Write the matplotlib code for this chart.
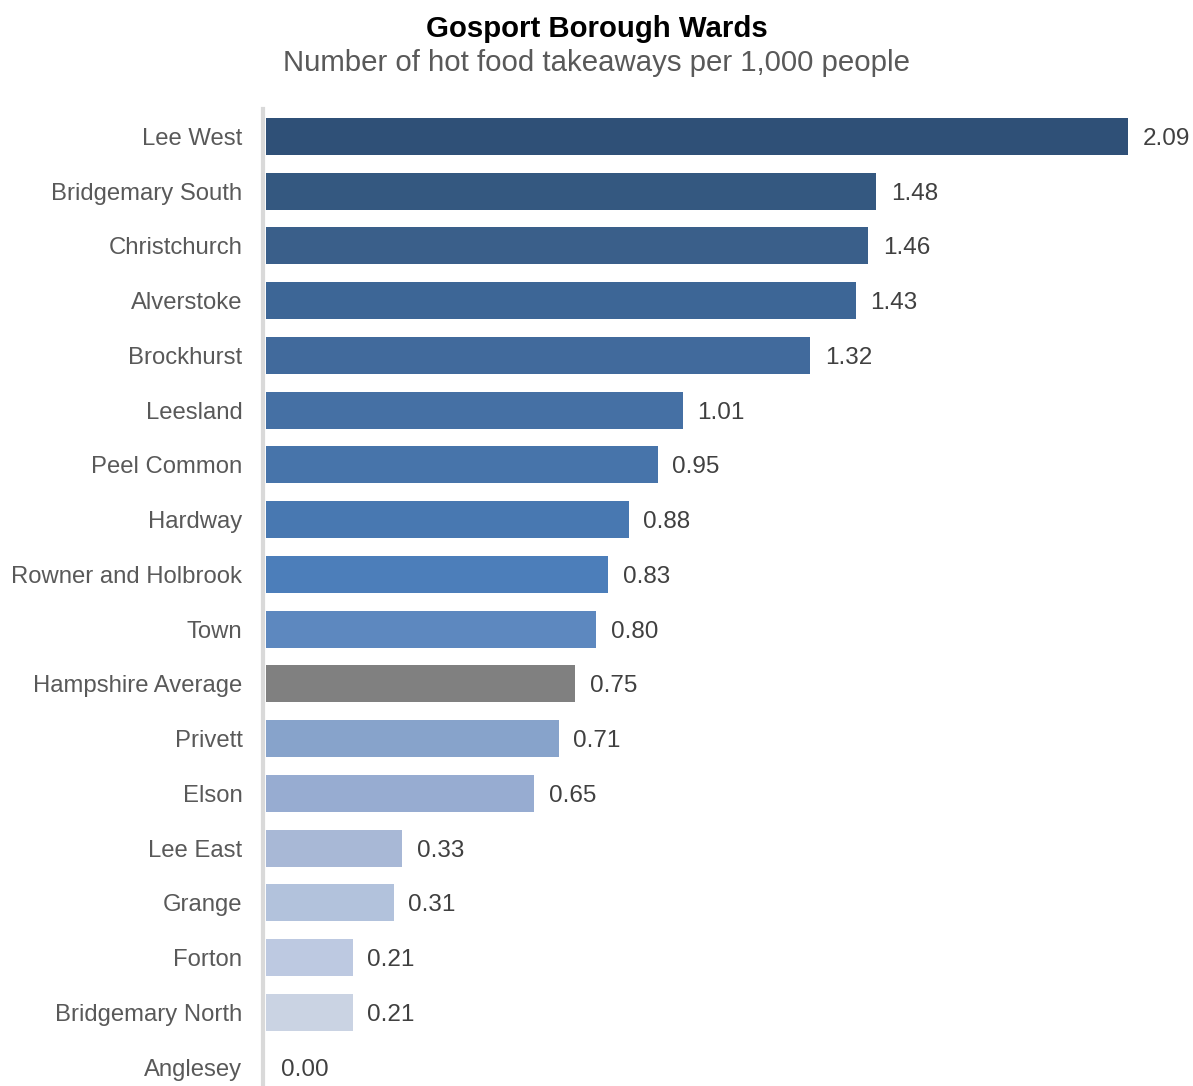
import matplotlib
matplotlib.use("Agg")
import matplotlib.pyplot as plt

plt.rcParams['font.family'] = ['Liberation Sans', 'DejaVu Sans']

wards = ["Lee West", "Bridgemary South", "Christchurch", "Alverstoke", "Brockhurst",
         "Leesland", "Peel Common", "Hardway", "Rowner and Holbrook", "Town",
         "Hampshire Average", "Privett", "Elson", "Lee East", "Grange", "Forton",
         "Bridgemary North", "Anglesey"]
takeaways_per_1000 = [2.09, 1.48, 1.46, 1.43, 1.32, 1.01, 0.95, 0.88, 0.83, 0.80,
                      0.75, 0.71, 0.65, 0.33, 0.31, 0.21, 0.21, 0.00]
bar_colors = ["#2F5077", "#345880", "#3A5F8A", "#3D6696", "#416A9C", "#4570A4",
              "#4774AA", "#4878B1", "#4C7EBA", "#5D88BF", "#808080", "#87A3CB",
              "#97ACD1", "#A8B8D6", "#B2C2DC", "#BDC9E1", "#CAD3E3", "#D5DCEA"]

W, H = 1193, 1086
fig = plt.figure(figsize=(W / 100, H / 100), dpi=100)

px_per_unit = 412.4
left_px, top_px = 266, 109
pitch = 54.75
n = len(wards)
ax_w = 900
ax_h = pitch * n
ax = fig.add_axes([left_px / W, 1 - (top_px + ax_h) / H, ax_w / W, ax_h / H])

for s in ["top", "right", "bottom"]:
    ax.spines[s].set_visible(False)
ax.spines["left"].set_color("#D9D9D9")
ax.spines["left"].set_linewidth(3)
ax.spines["left"].set_position(("outward", 2))

ypos = list(range(n))
ax.barh(ypos, takeaways_per_1000, height=0.675, color=bar_colors, zorder=2)
ax.set_ylim(n - 0.5, -0.5)
ax.set_xlim(0, ax_w / px_per_unit)

for y, v in zip(ypos, takeaways_per_1000):
    ax.annotate(f"{v:.2f}", xy=(v, y), xytext=(10.5, 0), textcoords="offset points",
                va="center_baseline", ha="left", fontsize=17.5, color="#404040",
                clip_on=False)

ax.set_yticks(ypos)
ax.set_yticklabels(wards)
ax.tick_params(axis="y", length=0, pad=15, labelsize=17.2, labelcolor="#595959")
ax.set_xticks([])

fig.text(0.5, 1 - 29 / H, "Gosport Borough Wards", ha="center", va="center",
         fontsize=21.2, fontweight="bold", color="#000000")
fig.text(0.5, 1 - 63 / H, "Number of hot food takeaways per 1,000 people", ha="center",
         va="center", fontsize=21.2, color="#595959")

fig.savefig("out.png", dpi=100)
